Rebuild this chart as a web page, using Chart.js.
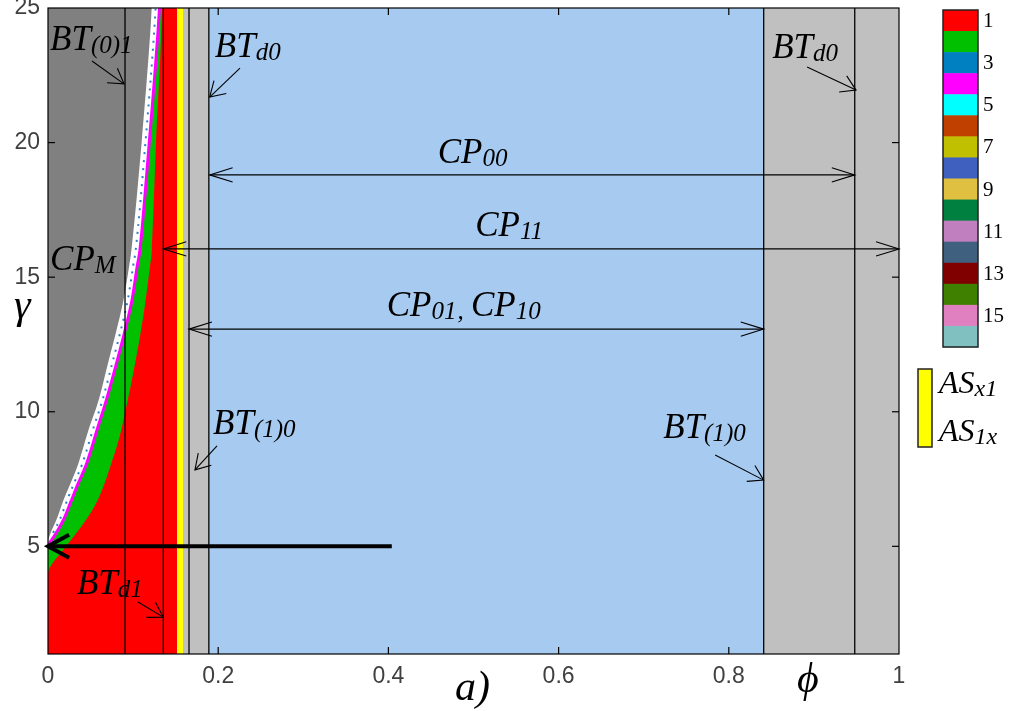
<!DOCTYPE html>
<html>
<head>
<meta charset="utf-8">
<title>Phase diagram</title>
<script src="https://cdn.jsdelivr.net/npm/chart.js@4.4.0/dist/chart.umd.min.js"></script>
<style>
  html, body { margin: 0; padding: 0; background: #fff; }
  canvas { display: block; }
</style>
</head>
<body>
<canvas id="phaseChart" width="1019" height="711"></canvas>
<script>
// Axis ticks
const xTicks = [0, 0.2, 0.4, 0.6, 0.8, 1];
const yTicks = [5, 10, 15, 20, 25];
const innerXTicks = [0.2, 0.4, 0.6, 0.8];
const innerYTicks = [5, 10, 15, 20];

// Curve A: edge of the dark grey region (phi, gamma)
const phiA   = [0, 0.0024, 0.0106, 0.0176, 0.0259, 0.0353, 0.040, 0.047, 0.060, 0.0700, 0.080, 0.0890, 0.0955, 0.0980, 0.110, 0.120, 0.122];
const gammaA = [5.2, 5.44, 6.04, 6.67, 7.3, 8.04, 8.52, 9.26, 10.48, 11.74, 12.96, 14.2, 15.44, 16.0, 20, 24, 25];
// Curve B: white band / magenta edge
const phiB   = [0, 0.0085, 0.019, 0.027, 0.035, 0.045, 0.050, 0.057, 0.069, 0.080, 0.090, 0.099, 0.105, 0.108, 0.119, 0.129, 0.131];
const gammaB = [5.05, 5.44, 6.04, 6.67, 7.3, 8.04, 8.52, 9.26, 10.48, 11.74, 12.96, 14.2, 15.44, 16.0, 20, 24, 25];
// speckles inside the white band
const phiN   = [0.006, 0.0145, 0.022, 0.030, 0.040, 0.045, 0.052, 0.0645, 0.075, 0.085, 0.094, 0.1002, 0.103, 0.1145, 0.1245, 0.1265];
const gammaN = [5.5, 6.04, 6.67, 7.3, 8.04, 8.52, 9.26, 10.48, 11.74, 12.96, 14.2, 15.44, 16.0, 20, 24, 25];
// Curve C: green / red edge
const phiC   = [0, 0.002, 0.0165, 0.032, 0.046, 0.0576, 0.066, 0.074, 0.079, 0.0856, 0.094, 0.102, 0.109, 0.115, 0.120, 0.122, 0.127, 0.133, 0.134];
const gammaC = [4.05, 4.2, 4.81, 5.44, 6.04, 6.67, 7.3, 8.04, 8.52, 9.26, 10.48, 11.74, 12.96, 14.2, 15.44, 16.0, 20, 24, 25];

// Vertical bands (left edge .. right edge) and their colours
const bandEdges  = [0, 0.1516, 0.1586, 0.189, 0.841, 1];
const bandColors = ['#ff0000', '#ffff00', '#c0c0c0', '#a6caf0', '#c0c0c0'];
// Vertical boundary lines
const boundaryLines = [0.0905, 0.1355, 0.1657, 0.189, 0.841, 0.948];

// Colour bar
const cbColors = ['#ff0000', '#00c000', '#0080c0', '#ff00ff', '#00ffff', '#c04000', '#c0c000', '#4060c0',
                  '#e0c040', '#008040', '#c080c0', '#406080', '#800000', '#408000', '#e080c0', '#80c0c0'];
const cbLabels = ['1', '3', '5', '7', '9', '11', '13', '15'];

// Text labels: parts are [text, small?]
const labels = [
    { parts: [['BT', 0], ['(0)1', 1]], at: [0.0024, 23.44] },
    { parts: [['BT', 0], ['d0', 1]], at: [0.196, 23.18] },
    { parts: [['BT', 0], ['d0', 1]], at: [0.851, 23.14] },
    { parts: [['CP', 0], ['00', 1]], at: [0.458, 19.24] },
    { parts: [['CP', 0], ['11', 1]], at: [0.502, 16.53] },
    { parts: [['CP', 0], ['M', 1]], at: [0.0024, 15.27] },
    { parts: [['CP', 0], ['01', 1], [', ', 1], ['CP', 0], ['10', 1]], at: [0.398, 13.56] },
    { parts: [['BT', 0], ['(1)0', 1]], at: [0.194, 9.17] },
    { parts: [['BT', 0], ['(1)0', 1]], at: [0.723, 9.02] },
    { parts: [['BT', 0], ['d1', 1]], at: [0.034, 3.23] }
];

// Annotation arrows (phi, gamma)
const arrows = [
    { from: [0.0517, 23.03], to: [0.0893, 22.18] },
    { from: [0.2256, 22.77], to: [0.190, 21.69] },
    { from: [0.892, 22.81], to: [0.9495, 21.95] },
    { from: [0.190, 18.80], to: [0.948, 18.80], both: true },
    { from: [0.1355, 16.05], to: [1.0, 16.05], both: true },
    { from: [0.1657, 13.07], to: [0.841, 13.07], both: true },
    { from: [0.1986, 8.73], to: [0.1727, 7.84] },
    { from: [0.784, 8.39], to: [0.841, 7.46] },
    { from: [0.1058, 2.93], to: [0.1355, 2.37] },
    { from: [0.404, 5.0], to: [0, 5.0], thick: true }
];

const toPts = (xs, ys) => xs.map((v, i) => ({ x: v, y: ys[i] }));

const datasets = [];
// bands, bottom layer
bandColors.forEach((c, i) => {
    datasets.push({
        data: [{ x: bandEdges[i], y: 25 }, { x: bandEdges[i + 1], y: 25 }],
        backgroundColor: c, borderWidth: 0, fill: 'start', order: 100 - i
    });
});
// curved regions, smoothed
const curve = { cubicInterpolationMode: 'monotone' };
datasets.push({ ...curve, data: toPts(phiC, gammaC), backgroundColor: '#00c000', borderWidth: 0, fill: 'end', order: 90 });
datasets.push({ ...curve, data: toPts(phiB, gammaB), backgroundColor: '#ffffff', borderColor: '#ff00ff', borderWidth: 3, fill: 'end', order: 89 });
datasets.push({ ...curve, data: toPts(phiN, gammaN), borderColor: '#2a80c8', borderWidth: 2, borderDash: [2, 6], fill: false, order: 88 });
datasets.push({ ...curve, data: toPts(phiA, gammaA), backgroundColor: '#808080', borderWidth: 0, fill: 'end', order: 87 });
boundaryLines.forEach(v => {
    datasets.push({ data: [{ x: v, y: 1 }, { x: v, y: 25 }], borderColor: '#000', borderWidth: 1.3, fill: false, order: 10 });
});

function line(ctx, x1, y1, x2, y2) {
    ctx.beginPath();
    ctx.moveTo(x1, y1);
    ctx.lineTo(x2, y2);
    ctx.stroke();
}

function head(ctx, x, y, dir, len, ang) {
    ctx.beginPath();
    ctx.moveTo(x + len * Math.cos(dir + Math.PI - ang), y + len * Math.sin(dir + Math.PI - ang));
    ctx.lineTo(x, y);
    ctx.lineTo(x + len * Math.cos(dir + Math.PI + ang), y + len * Math.sin(dir + Math.PI + ang));
    ctx.stroke();
}

function drawLabel(ctx, parts, x, y, big, small) {
    ctx.textAlign = 'left';
    ctx.textBaseline = 'alphabetic';
    let cx = x;
    parts.forEach(([t, s]) => {
        ctx.font = `italic ${s ? small : big}px "Liberation Serif"`;
        ctx.fillText(t, cx, s ? y + 3 : y);
        cx += ctx.measureText(t).width + (s ? 1 : 0);
    });
}

const overlay = {
    id: 'overlay',
    afterDatasetsDraw(chart) {
        const { ctx, chartArea: a, scales: { x, y } } = chart;
        ctx.save();
        ctx.strokeStyle = '#000';
        ctx.fillStyle = '#000';

        // frame and inner ticks
        ctx.lineWidth = 1.2;
        ctx.strokeRect(a.left, a.top, a.right - a.left, a.bottom - a.top);
        innerXTicks.forEach(v => {
            const px = x.getPixelForValue(v);
            line(ctx, px, a.bottom, px, a.bottom - 7);
            line(ctx, px, a.top, px, a.top + 7);
        });
        innerYTicks.forEach(v => {
            const py = y.getPixelForValue(v);
            line(ctx, a.left, py, a.left + 7, py);
            line(ctx, a.right, py, a.right - 7, py);
        });

        // arrows
        arrows.forEach(ar => {
            const x1 = x.getPixelForValue(ar.from[0]), y1 = y.getPixelForValue(ar.from[1]);
            const x2 = x.getPixelForValue(ar.to[0]), y2 = y.getPixelForValue(ar.to[1]);
            const dir = Math.atan2(y2 - y1, x2 - x1);
            ctx.lineWidth = ar.thick ? 4 : 1.1;
            line(ctx, x1, y1, x2, y2);
            if (ar.thick) {
                head(ctx, x2, y2, dir, 24, 0.5);
            } else if (ar.both) {
                head(ctx, x2, y2, dir, 24, 0.3);
                head(ctx, x1, y1, dir + Math.PI, 24, 0.3);
            } else {
                head(ctx, x2, y2, dir, 17, 0.55);
            }
        });

        // region labels
        labels.forEach(l => {
            drawLabel(ctx, l.parts, x.getPixelForValue(l.at[0]), y.getPixelForValue(l.at[1]), 35, 25);
        });

        // axis titles
        ctx.font = 'italic 42px "Liberation Serif"';
        ctx.fillText('a)', 455, 700);
        ctx.fillText('\u03d5', 797, 692);
        ctx.fillText('\u03b3', 14, 318);

        // colour bar
        const cbL = 943, cbT = 10, cbW = 35, cbH = 337, step = cbH / cbColors.length;
        cbColors.forEach((c, i) => {
            ctx.fillStyle = c;
            ctx.fillRect(cbL, cbT + i * step, cbW, step + 0.5);
        });
        ctx.lineWidth = 1.5;
        ctx.strokeStyle = '#222';
        ctx.strokeRect(cbL, cbT, cbW, cbH);
        ctx.fillStyle = '#000';
        ctx.font = '21px "Liberation Serif"';
        ctx.textBaseline = 'middle';
        cbLabels.forEach((t, i) => {
            ctx.fillText(t, cbL + cbW + 5, cbT + (2 * i + 0.5) * step + 1);
        });

        // AS legend
        ctx.fillStyle = '#ffff00';
        ctx.fillRect(918, 369, 14, 78);
        ctx.strokeRect(918, 369, 14, 78);
        ctx.fillStyle = '#000';
        drawLabel(ctx, [['AS', 0], ['x1', 1]], 939, 393, 32, 24);
        drawLabel(ctx, [['AS', 0], ['1x', 1]], 939, 441, 32, 24);
        ctx.restore();
    }
};

new Chart(document.getElementById('phaseChart'), {
    type: 'line',
    data: { datasets },
    options: {
        responsive: false,
        animation: false,
        layout: { padding: { top: 8, right: 120, left: 0, bottom: 0 } },
        elements: { point: { radius: 0, hoverRadius: 0 }, line: { tension: 0 } },
        plugins: { legend: { display: false }, tooltip: { enabled: false } },
        events: [],
        scales: {
            x: {
                type: 'linear', min: 0, max: 1,
                afterBuildTicks: s => { s.ticks = xTicks.map(v => ({ value: v })); },
                afterFit: s => { s.height = 57; s.paddingLeft = 0; s.paddingRight = 0; },
                ticks: {
                    padding: 9, color: '#404040', maxRotation: 0,
                    font: { family: 'Liberation Sans', size: 23 },
                    callback: v => String(+v.toFixed(1))
                },
                grid: { display: false, drawTicks: false },
                border: { display: false }
            },
            y: {
                type: 'linear', min: 1, max: 25,
                afterBuildTicks: s => { s.ticks = yTicks.map(v => ({ value: v })); },
                afterFit: s => { s.width = 48; s.paddingTop = 0; s.paddingBottom = 0; },
                ticks: {
                    padding: 8, color: '#404040',
                    font: { family: 'Liberation Sans', size: 23 }
                },
                grid: { display: false, drawTicks: false },
                border: { display: false }
            }
        }
    },
    plugins: [overlay]
});
</script>
</body>
</html>
